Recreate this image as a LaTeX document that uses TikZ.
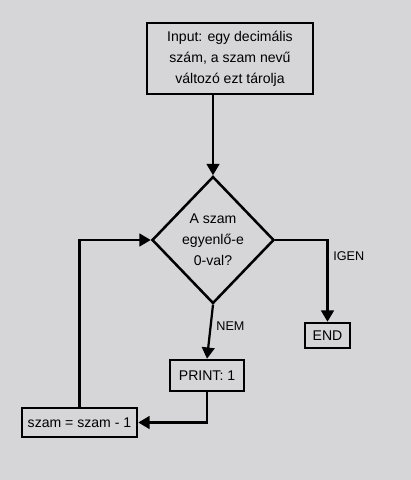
\documentclass[tikz,border=0pt]{standalone}
\usepackage{fontspec}
\setmainfont{Liberation Sans}
\usetikzlibrary{shapes.geometric,arrows.meta}
\definecolor{paper}{RGB}{214,214,216}

\begin{document}
\begin{tikzpicture}[x=0.025cm, y=-0.025cm,
  box/.style={draw, line width=1.8pt, inner sep=2pt, align=center, font=\fontsize{10}{15}\selectfont},
  decision/.style={draw, diamond, line width=1.8pt, inner sep=0pt, align=center, minimum width=3.05cm, minimum height=3.175cm, font=\fontsize{10}{15}\selectfont},
  flow/.style={line width=1.6pt, -{Triangle[width=9pt, length=8pt]}},
  lbl/.style={font=\fontsize{9}{11}\selectfont}]
  \fill[paper] (0,0) rectangle (411,480);
  \useasboundingbox (0,0) rectangle (411,480);

  \node[box, minimum width=4.15cm, minimum height=1.775cm] (input) at (230,58.5) {Input: egy decimális\\szám, a szam nevű\\változó ezt tárolja};
  \node[decision] (dec) at (213,240) {A szam\\egyenlő-e\\0-val?};
  \node[box, minimum width=1.125cm, minimum height=0.625cm] (fin) at (327.5,335.5) {END};
  \node[box, minimum width=1.85cm, minimum height=0.775cm] (print) at (207,375.5) {PRINT: 1};
  \node[box, minimum width=2.875cm, minimum height=0.725cm] (dec1) at (79.5,422.5) {szam = szam - 1};

  \draw[flow] (dec.north |- input.south) -- (dec.north);
  \draw[flow] (dec.east) -| (fin.north) node[lbl, right, pos=0.6] {IGEN};
  \draw[flow] (dec.south) -- (print.north) node[lbl, right, pos=0.4] {NEM};
  \draw[flow] (print.south) |- (dec1.east);
  \draw[flow] (dec1.north) |- (dec.west);
\end{tikzpicture}
\end{document}
